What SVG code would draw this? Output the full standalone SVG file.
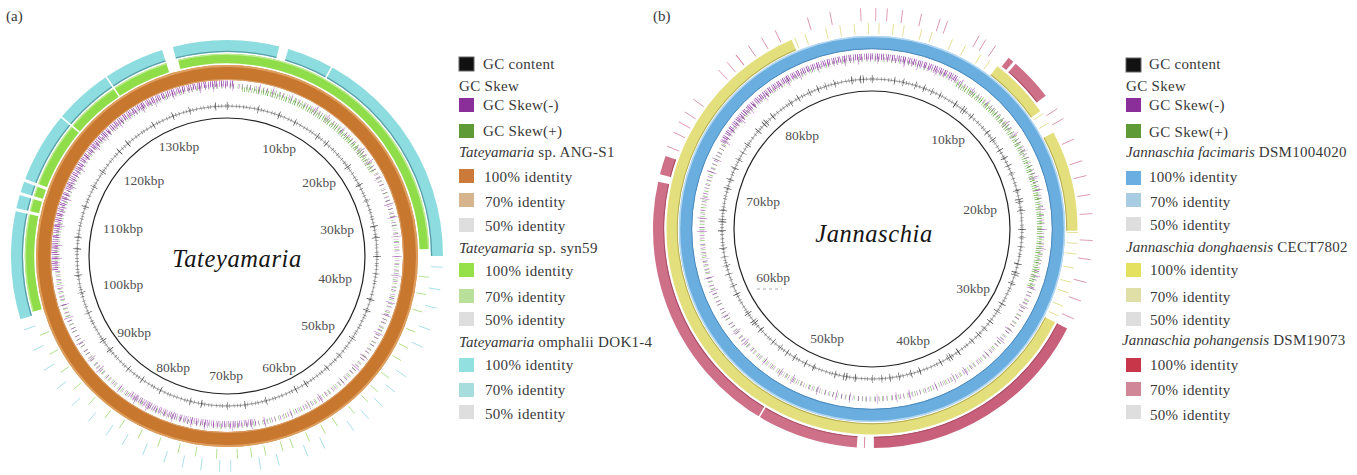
<svg xmlns="http://www.w3.org/2000/svg" xmlns:xlink="http://www.w3.org/1999/xlink" width="1357" height="475" viewBox="0 0 1357 475" font-family="'Liberation Serif', 'Times New Roman', serif">
<style>
.t{font-family:"Liberation Serif","Times New Roman",serif;fill:#383838}
.lg{font-size:15px;letter-spacing:.3px}
.it{font-style:italic;letter-spacing:0}
.kb{font-size:13.5px;fill:#505050;text-anchor:middle;letter-spacing:0}
.ti{font-size:24.5px;font-style:italic;fill:#151515;text-anchor:middle;letter-spacing:.6px}
.ring{fill:none}
.inner{fill:none;stroke:#222;stroke-width:1.2}
.gcb{fill:none;stroke:#777;stroke-width:.7}
.gc1{fill:none;stroke:#555;stroke-width:4;stroke-dasharray:.4 2.6 .4 3.7 .5 2.1 .4 3.3 .4 4.1}
.gc2{fill:none;stroke:#222;stroke-width:8;stroke-dasharray:.5 17 .4 26 .6 11 .5 31 .5 21}
.gc3{fill:none;stroke:#aaa;stroke-width:2;stroke-dasharray:.4 1.3 .3 1.6}
.skp{fill:none;stroke:#9030a8;stroke-width:5;stroke-dasharray:.5 4.1 .4 3.2 .6 5 .4 2.8;opacity:.85}
.skg{fill:none;stroke:#62b23c;stroke-width:5;stroke-dasharray:.5 3.4 .4 4.6 .6 2.9 .4 3.8;stroke-dashoffset:1.7;opacity:.85}
.sks{fill:none;stroke:#8a2aa0;stroke-width:10;stroke-dasharray:.5 19 .4 27 .6 13;opacity:.7}
.skP{fill:none;stroke:#8a2aa0;stroke-width:6;stroke-dasharray:.7 1.3 .5 1.9 .8 1.1 .6 2.2 .5 1.3}
.skG{fill:none;stroke:#5aa832;stroke-width:5;stroke-dasharray:.6 1.9 .5 1.4 .7 2.4 .5 1.6}
.tg{stroke:#a8dc7c;stroke-width:.8}
.tc{stroke:#9cdbe6;stroke-width:.8}
.ty{stroke:#dedb86;stroke-width:.8}
.tp{stroke:#d88aa0;stroke-width:.8}
.sep{stroke:#fff}
</style>
<defs>
<line id="ta" y1="-193" y2="-203"/>
<line id="tb" y1="-204" y2="-216"/>
<line id="ya" y1="-195" y2="-206"/>
<line id="pa" y1="-208" y2="-221"/>
<clipPath id="aTL"><polygon points="0,0 -398,35 -400,-400 14,-400"/></clipPath>
<clipPath id="aR"><polygon points="0,0 35,-400 400,-400 346,-200"/></clipPath>
<clipPath id="aB"><polygon points="0,0 69,394 -229,328"/></clipPath>
<clipPath id="bT"><polygon points="0,0 -346,-200 -400,-400 231,-400"/></clipPath>
<clipPath id="bR"><polygon points="0,0 231,-400 400,-400 400,146"/></clipPath>
</defs>

<text class="t" x="6" y="21" font-size="15">(a)</text>
<text class="t" x="653" y="21" font-size="15">(b)</text>

<!-- Panel (a) -->
<g id="plotA" transform="translate(227 256)">
  <g id="ticksA">
    <g class="tg">
      <use xlink:href="#ta" transform="rotate(96)"/><use xlink:href="#ta" transform="rotate(101)"/><use xlink:href="#ta" transform="rotate(106)"/><use xlink:href="#ta" transform="rotate(112)"/><use xlink:href="#ta" transform="rotate(117)"/><use xlink:href="#ta" transform="rotate(121)"/><use xlink:href="#ta" transform="rotate(127)"/><use xlink:href="#ta" transform="rotate(132)"/><use xlink:href="#ta" transform="rotate(136)"/><use xlink:href="#ta" transform="rotate(141)"/><use xlink:href="#ta" transform="rotate(147)"/><use xlink:href="#ta" transform="rotate(151)"/><use xlink:href="#ta" transform="rotate(156)"/><use xlink:href="#ta" transform="rotate(161)"/><use xlink:href="#ta" transform="rotate(164)"/><use xlink:href="#ta" transform="rotate(169)"/><use xlink:href="#ta" transform="rotate(173)"/><use xlink:href="#ta" transform="rotate(177)"/><use xlink:href="#ta" transform="rotate(183)"/><use xlink:href="#ta" transform="rotate(189)"/><use xlink:href="#ta" transform="rotate(194)"/><use xlink:href="#ta" transform="rotate(200)"/><use xlink:href="#ta" transform="rotate(206)"/><use xlink:href="#ta" transform="rotate(212)"/><use xlink:href="#ta" transform="rotate(217)"/><use xlink:href="#ta" transform="rotate(223)"/><use xlink:href="#ta" transform="rotate(229)"/><use xlink:href="#ta" transform="rotate(235)"/><use xlink:href="#ta" transform="rotate(241)"/><use xlink:href="#ta" transform="rotate(247)"/>
    </g>
    <g class="tc">
      <use xlink:href="#tb" transform="rotate(93)"/><use xlink:href="#tb" transform="rotate(99)"/><use xlink:href="#tb" transform="rotate(104)"/><use xlink:href="#tb" transform="rotate(110)"/><use xlink:href="#tb" transform="rotate(115)"/><use xlink:href="#tb" transform="rotate(124)"/><use xlink:href="#tb" transform="rotate(129)"/><use xlink:href="#tb" transform="rotate(134)"/><use xlink:href="#tb" transform="rotate(139)"/><use xlink:href="#tb" transform="rotate(144)"/><use xlink:href="#tb" transform="rotate(153)"/><use xlink:href="#tb" transform="rotate(158)"/><use xlink:href="#tb" transform="rotate(166)"/><use xlink:href="#tb" transform="rotate(171)"/><use xlink:href="#tb" transform="rotate(179)"/><use xlink:href="#tb" transform="rotate(182)"/><use xlink:href="#tb" transform="rotate(187)"/><use xlink:href="#tb" transform="rotate(192)"/><use xlink:href="#tb" transform="rotate(197)"/><use xlink:href="#tb" transform="rotate(203)"/><use xlink:href="#tb" transform="rotate(209)"/><use xlink:href="#tb" transform="rotate(214)"/><use xlink:href="#tb" transform="rotate(220)"/><use xlink:href="#tb" transform="rotate(226)"/><use xlink:href="#tb" transform="rotate(232)"/><use xlink:href="#tb" transform="rotate(238)"/><use xlink:href="#tb" transform="rotate(244)"/><use xlink:href="#tb" transform="rotate(250)"/>
    </g>
  </g>
  <g id="ringOmphalii">
    <g class="ring" stroke="#8ddcdf" stroke-width="12">
      <circle r="210" pathLength="360" stroke-dasharray="28.5 360" transform="rotate(-104.5)"/>
      <circle r="210" pathLength="360" stroke-dasharray="73.5 360" transform="rotate(-73.5)"/>
      <circle r="210" pathLength="360" stroke-dasharray="89.5 360" transform="rotate(-197)"/>
    </g>
    <g class="ring" stroke="#5a9fa8" stroke-width="1.3">
      <circle r="204.6" pathLength="360" stroke-dasharray="28.5 360" transform="rotate(-104.5)"/>
      <circle r="204.6" pathLength="360" stroke-dasharray="73.5 360" transform="rotate(-73.5)"/>
      <circle r="204.6" pathLength="360" stroke-dasharray="89.5 360" transform="rotate(-197)"/>
    </g>
  </g>
  <g id="ringSyn59">
    <g class="ring" stroke="#8fdd48" stroke-width="9.5">
      <circle r="197.5" pathLength="360" stroke-dasharray="102 360" transform="rotate(-104)"/>
      <circle r="197.5" pathLength="360" stroke-dasharray="88.5 360" transform="rotate(-196)"/>
    </g>
    <g class="ring" stroke="#bfeb95" stroke-width="1.3">
      <circle r="201.6" pathLength="360" stroke-dasharray="102 360" transform="rotate(-104)"/>
      <circle r="201.6" pathLength="360" stroke-dasharray="88.5 360" transform="rotate(-196)"/>
    </g>
  </g>
  <g id="sepA">
    <line class="sep" y1="-192.5" y2="-218" stroke-width="1.6" transform="rotate(-34)"/>
    <line class="sep" y1="-192.5" y2="-218" stroke-width="1.6" transform="rotate(-50)"/>
    <line class="sep" y1="-203.5" y2="-218" stroke-width="1.6" transform="rotate(29)"/>
    <line class="sep" y1="-192.5" y2="-218" stroke-width="3" transform="rotate(-69.5)"/>
    <line class="sep" y1="-192.5" y2="-218" stroke-width="3" transform="rotate(-73.2)"/>
    <line class="sep" y1="-192.5" y2="-218" stroke-width="3" transform="rotate(-77.6)"/>
  </g>
  <g id="ringANG">
    <circle class="ring" r="183.5" stroke="#c8772f" stroke-width="15"/>
    <circle class="ring" r="190" stroke="#e2a565" stroke-width="2" opacity=".85"/>
    <circle class="ring" r="176.6" stroke="#dda06a" stroke-width="1"/>
  </g>
  <g id="skewA">
    <circle r="170" class="skg"/>
    <circle r="170" class="skp"/>
    <circle r="170" class="sks"/>
    <circle r="172.5" class="skP" clip-path="url(#aTL)"/>
    <circle r="167.5" class="skG" clip-path="url(#aR)"/>
    <circle r="168" class="skP" clip-path="url(#aB)" opacity=".7"/>
  </g>
  <g id="gcA">
    <circle r="150" class="gcb"/>
    <circle r="150" class="gc3"/>
    <circle r="150" class="gc1"/>
    <circle r="150" class="gc2"/>
  </g>
  <circle class="inner" r="138"/>
</g>
<g id="labelsA">
  <text class="t kb" x="179" y="150.5">130kbp</text>
  <text class="t kb" x="279" y="152.5">10kbp</text>
  <text class="t kb" x="144" y="184.5">120kbp</text>
  <text class="t kb" x="319" y="186.5">20kbp</text>
  <text class="t kb" x="123" y="232.5">110kbp</text>
  <text class="t kb" x="337" y="233.5">30kbp</text>
  <text class="t kb" x="123" y="288.5">100kbp</text>
  <text class="t kb" x="335" y="282.5">40kbp</text>
  <text class="t kb" x="134" y="336.5">90kbp</text>
  <text class="t kb" x="318" y="329.5">50kbp</text>
  <text class="t kb" x="173" y="371.5">80kbp</text>
  <text class="t kb" x="226" y="379.5">70kbp</text>
  <text class="t kb" x="279" y="371.5">60kbp</text>
  <text class="t ti" x="237" y="267">Tateyamaria</text>
</g>

<!-- Legend (a) -->
<g id="legendA" class="t lg">
  <rect x="459" y="57" width="15" height="14" fill="#111" stroke="#666" stroke-width="1"/>
  <text x="483" y="69">GC content</text>
  <text x="459" y="91">GC Skew</text>
  <rect x="459" y="98" width="15" height="14" fill="#8a2f9a"/>
  <text x="483" y="110">GC Skew(-)</text>
  <rect x="459" y="124" width="15" height="14" fill="#5e9a35"/>
  <text x="483" y="136">GC Skew(+)</text>
  <text x="459" y="157"><tspan class="it">Tateyamaria</tspan> sp. ANG-S1</text>
  <rect x="459" y="169" width="15" height="14" fill="#cc7a3a"/>
  <text x="484" y="182">100% identity</text>
  <rect x="459" y="193" width="15" height="14" fill="#d6b48e"/>
  <text x="485" y="207">70% identity</text>
  <rect x="459" y="218" width="15" height="14" fill="#dedede"/>
  <text x="485" y="231">50% identity</text>
  <text x="459" y="253"><tspan class="it">Tateyamaria</tspan> sp. syn59</text>
  <rect x="459" y="263" width="15" height="14" fill="#96e04a"/>
  <text x="485" y="276">100% identity</text>
  <rect x="459" y="289" width="15" height="14" fill="#b8e09a"/>
  <text x="485" y="302">70% identity</text>
  <rect x="459" y="312" width="15" height="14" fill="#dedede"/>
  <text x="485" y="325">50% identity</text>
  <text x="459" y="347"><tspan class="it">Tateyamaria</tspan> omphalii DOK1-4</text>
  <rect x="459" y="358" width="15" height="14" fill="#92e0e0"/>
  <text x="485" y="370">100% identity</text>
  <rect x="459" y="383" width="15" height="14" fill="#a8dddd"/>
  <text x="485" y="395">70% identity</text>
  <rect x="459" y="405" width="15" height="14" fill="#dedede"/>
  <text x="485" y="419">50% identity</text>
</g>

<!-- Panel (b) -->
<g id="plotB" transform="translate(872 229)">
  <g id="ticksB">
    <g class="ty">
      <use xlink:href="#ya" transform="rotate(-36)"/><use xlink:href="#ya" transform="rotate(-31)"/><use xlink:href="#ya" transform="rotate(-27)"/><use xlink:href="#ya" transform="rotate(-22)"/><use xlink:href="#ya" transform="rotate(-19)"/><use xlink:href="#ya" transform="rotate(-13)"/><use xlink:href="#ya" transform="rotate(-9)"/><use xlink:href="#ya" transform="rotate(-5)"/><use xlink:href="#ya" transform="rotate(-1)"/><use xlink:href="#ya" transform="rotate(2)"/><use xlink:href="#ya" transform="rotate(6)"/><use xlink:href="#ya" transform="rotate(9)"/><use xlink:href="#ya" transform="rotate(14)"/><use xlink:href="#ya" transform="rotate(17)"/><use xlink:href="#ya" transform="rotate(23)"/><use xlink:href="#ya" transform="rotate(27)"/><use xlink:href="#ya" transform="rotate(32)"/><use xlink:href="#ya" transform="rotate(35)"/><use xlink:href="#ya" transform="rotate(56)"/><use xlink:href="#ya" transform="rotate(59)"/><use xlink:href="#ya" transform="rotate(91)"/><use xlink:href="#ya" transform="rotate(94)"/><use xlink:href="#ya" transform="rotate(97)"/><use xlink:href="#ya" transform="rotate(101)"/><use xlink:href="#ya" transform="rotate(105)"/><use xlink:href="#ya" transform="rotate(108)"/><use xlink:href="#ya" transform="rotate(112)"/><use xlink:href="#ya" transform="rotate(115)"/>
    </g>
    <g class="tp">
      <use xlink:href="#pa" transform="rotate(-38)"/><use xlink:href="#pa" transform="rotate(-34)"/><use xlink:href="#pa" transform="rotate(-30)"/><use xlink:href="#pa" transform="rotate(-26)"/><use xlink:href="#pa" transform="rotate(-17)"/><use xlink:href="#pa" transform="rotate(-11)"/><use xlink:href="#pa" transform="rotate(-3)"/><use xlink:href="#pa" transform="rotate(1)"/><use xlink:href="#pa" transform="rotate(4)"/><use xlink:href="#pa" transform="rotate(8)"/><use xlink:href="#pa" transform="rotate(13)"/><use xlink:href="#pa" transform="rotate(18)"/><use xlink:href="#pa" transform="rotate(20)"/><use xlink:href="#pa" transform="rotate(29)"/><use xlink:href="#pa" transform="rotate(31)"/><use xlink:href="#pa" transform="rotate(34)"/><use xlink:href="#pa" transform="rotate(57)"/><use xlink:href="#pa" transform="rotate(60)"/><use xlink:href="#pa" transform="rotate(66)"/><use xlink:href="#pa" transform="rotate(72)"/><use xlink:href="#pa" transform="rotate(76)"/><use xlink:href="#pa" transform="rotate(81)"/><use xlink:href="#pa" transform="rotate(86)"/><use xlink:href="#pa" transform="rotate(93)"/><use xlink:href="#pa" transform="rotate(98)"/><use xlink:href="#pa" transform="rotate(104)"/><use xlink:href="#pa" transform="rotate(109)"/><use xlink:href="#pa" transform="rotate(114)"/><use xlink:href="#pa" transform="rotate(292)"/><use xlink:href="#pa" transform="rotate(296)"/><use xlink:href="#pa" transform="rotate(299)"/><use xlink:href="#pa" transform="rotate(302)"/><use xlink:href="#pa" transform="rotate(306)"/><use xlink:href="#pa" transform="rotate(316)"/><use xlink:href="#pa" transform="rotate(319)"/><use xlink:href="#pa" transform="rotate(322)"/>
    </g>
  </g>
  <g id="ringPohang">
    <g class="ring" stroke="#cf7089" stroke-width="11">
      <circle r="213.5" pathLength="360" stroke-dasharray="62.5 360" transform="rotate(27)" stroke="#c9607b"/>
      <circle r="213.5" pathLength="360" stroke-dasharray="98.5 360" transform="rotate(94)"/>
      <circle r="213.5" pathLength="360" stroke-dasharray="5 360" transform="rotate(194.5)"/>
      <circle r="213.5" pathLength="360" stroke-dasharray="11.5 360" transform="rotate(-49)"/>
      <circle r="213.5" pathLength="360" stroke-dasharray="1.6 360" transform="rotate(-51.4)"/>
    </g>
    <g class="ring" stroke="#a84c66" stroke-width="1">
      <circle r="208.3" pathLength="360" stroke-dasharray="62.5 360" transform="rotate(27)"/>
      <circle r="208.3" pathLength="360" stroke-dasharray="98.5 360" transform="rotate(94)"/>
      <circle r="208.3" pathLength="360" stroke-dasharray="5 360" transform="rotate(194.5)"/>
      <circle r="208.3" pathLength="360" stroke-dasharray="11.5 360" transform="rotate(-49)"/>
    </g>
    <line class="sep" y1="-207" y2="-220" stroke-width="1.6" transform="rotate(211)"/>
    <line y1="-208" y2="-219" stroke="#d88aa0" stroke-width="1" transform="rotate(182)"/>
  </g>
  <g id="ringDonghae">
    <g class="ring" stroke="#e3df7c" stroke-width="11">
      <circle r="200" pathLength="360" stroke-dasharray="220 360" transform="rotate(27)"/>
      <circle r="200" pathLength="360" stroke-dasharray="17.4 360" transform="rotate(-52.4)"/>
      <circle r="200" pathLength="360" stroke-dasharray="28.5 360" transform="rotate(-28)"/>
    </g>
    <g class="ring" stroke="#b3ad55" stroke-width="1">
      <circle r="194.7" pathLength="360" stroke-dasharray="220 360" transform="rotate(27)"/>
      <circle r="194.7" pathLength="360" stroke-dasharray="17.4 360" transform="rotate(-52.4)"/>
      <circle r="194.7" pathLength="360" stroke-dasharray="28.5 360" transform="rotate(-28)"/>
    </g>
  </g>
  <g id="ringFacimaris">
    <circle class="ring" r="186.5" stroke="#6aaee0" stroke-width="13"/>
    <circle class="ring" r="192.5" stroke="#b5d8f2" stroke-width="1.5"/>
    <circle class="ring" r="180.3" stroke="#4a88bb" stroke-width="1"/>
  </g>
  <g id="skewB">
    <circle r="170" class="skg"/>
    <circle r="170" class="skp"/>
    <circle r="170" class="sks"/>
    <circle r="172.5" class="skP" clip-path="url(#bT)"/>
    <circle r="167.5" class="skG" clip-path="url(#bR)"/>
  </g>
  <g id="gcB">
    <circle r="150" class="gcb"/>
    <circle r="150" class="gc3"/>
    <circle r="150" class="gc1"/>
    <circle r="150" class="gc2"/>
    <circle r="150" class="gc2" stroke-dashoffset="9"/>
  </g>
  <circle class="inner" r="138"/>
</g>
<g id="labelsB">
  <text class="t kb" x="802" y="139.5">80kbp</text>
  <text class="t kb" x="948" y="143.5">10kbp</text>
  <text class="t kb" x="763" y="205.5">70kbp</text>
  <text class="t kb" x="980" y="213.5">20kbp</text>
  <text class="t kb" x="773" y="281.5">60kbp</text>
  <line x1="757" y1="289" x2="782" y2="289" stroke="#999" stroke-width=".8" stroke-dasharray="3 3"/>
  <text class="t kb" x="973" y="292.5">30kbp</text>
  <text class="t kb" x="827" y="342.5">50kbp</text>
  <text class="t kb" x="913" y="344.5">40kbp</text>
  <text class="t ti" x="874" y="242">Jannaschia</text>
</g>

<!-- Legend (b) -->
<g id="legendB" class="t lg">
  <rect x="1126" y="58" width="15" height="14" fill="#111" stroke="#666" stroke-width="1"/>
  <text x="1149" y="69">GC content</text>
  <text x="1126" y="91">GC Skew</text>
  <rect x="1126" y="98" width="15" height="14" fill="#8a2f9a"/>
  <text x="1149" y="110">GC Skew(-)</text>
  <rect x="1126" y="124" width="15" height="14" fill="#5e9a35"/>
  <text x="1149" y="137">GC Skew(+)</text>
  <text x="1126" y="157"><tspan class="it">Jannaschia facimaris</tspan> DSM1004020</text>
  <rect x="1126" y="171" width="15" height="14" fill="#6aaee2"/>
  <text x="1149" y="182">100% identity</text>
  <rect x="1126" y="193" width="15" height="14" fill="#a8cce2"/>
  <text x="1150" y="207">70% identity</text>
  <rect x="1126" y="217" width="15" height="14" fill="#dedede"/>
  <text x="1150" y="230">50% identity</text>
  <text x="1126" y="252"><tspan class="it">Jannaschia donghaensis</tspan>  CECT7802</text>
  <rect x="1126" y="263" width="15" height="14" fill="#e4e060"/>
  <text x="1150" y="275">100% identity</text>
  <rect x="1126" y="288" width="15" height="14" fill="#e0dfa8"/>
  <text x="1150" y="302">70% identity</text>
  <rect x="1126" y="312" width="15" height="14" fill="#dedede"/>
  <text x="1150" y="325">50% identity</text>
  <text x="1122" y="345"><tspan class="it">Jannaschia pohangensis</tspan> DSM19073</text>
  <rect x="1126" y="358" width="15" height="14" fill="#c8364a"/>
  <text x="1150" y="370">100% identity</text>
  <rect x="1126" y="382" width="15" height="14" fill="#d08898"/>
  <text x="1150" y="395">70% identity</text>
  <rect x="1126" y="405" width="15" height="14" fill="#dedede"/>
  <text x="1150" y="420">50% identity</text>
</g>
</svg>
